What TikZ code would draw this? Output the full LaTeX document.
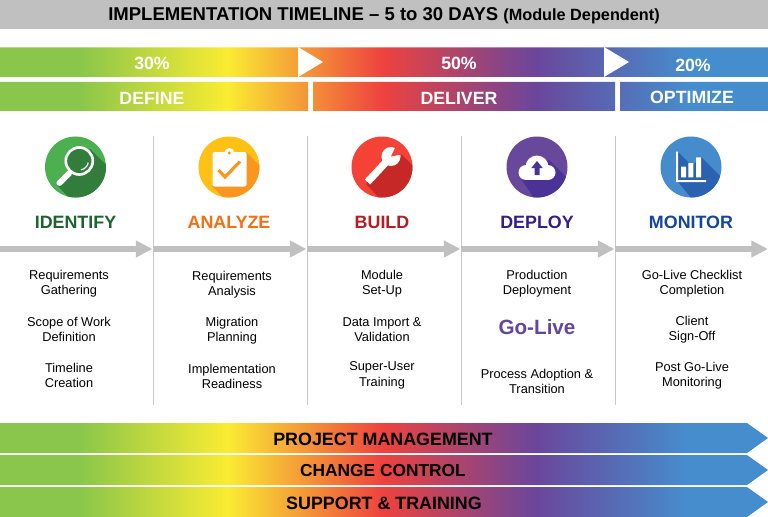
\documentclass[tikz,border=0pt]{standalone}
\usepackage{fontspec}
\setmainfont{Liberation Sans}
\usetikzlibrary{arrows.meta,positioning}

\definecolor{barGreen}{RGB}{138,198,75}
\definecolor{barYellow}{RGB}{250,236,50}
\definecolor{barRed}{RGB}{238,66,62}
\definecolor{barPurple}{RGB}{106,70,155}
\definecolor{barBlue}{RGB}{70,141,205}
\definecolor{rule}{RGB}{192,192,192}

\pgfdeclarehorizontalshading{timeline}{100bp}{
	color(0bp)=(barGreen); color(30.2bp)=(barGreen); color(39.8bp)=(barYellow);
	color(49.9bp)=(barRed); color(59.9bp)=(barPurple); color(69.8bp)=(barBlue);
	color(100bp)=(barBlue)}

\tikzset{
	barlabel/.style={text=white, font=\fontsize{13.3}{16}\selectfont\bfseries},
	tracklabel/.style={text=black, font=\fontsize{13.4}{16}\selectfont\bfseries},
	disc/.style={circle, minimum size=45.75pt, inner sep=0pt},
	heading/.style={font=\fontsize{13.4}{16}\selectfont\bfseries},
	item/.style={align=center, font=\fontsize{9.6}{11.6}\selectfont},
	divider/.style={draw=rule!85!white, line width=0.6pt},
	stage/.style={draw=rule, line width=4.5pt, -{Triangle[length=12.5pt, width=12pt]}},
}

\begin{document}
\begin{tikzpicture}[x=0.75pt, y=-0.75pt, node distance=34.5pt, on grid]
	\useasboundingbox (0,0) rectangle (768,517);

	% header
	\fill[rule] (0,0) rectangle (768,29);
	\node (title) at (384,16) {\fontsize{13.9}{16}\selectfont\bfseries IMPLEMENTATION TIMELINE -- 5 to 30 DAYS {\fontsize{12.2}{16}\selectfont (Module Dependent)}};

	% one gradient behind all the bars
	\begin{scope}
		\clip (0,47.5) rectangle (768,77)
			(0,82) rectangle (308,111)
			(313,82) rectangle (615,111)
			(620,82) rectangle (768,111)
			(0,423) -- (747,423) -- (768,438) -- (747,453) -- (0,453) -- cycle
			(0,455) -- (747,455) -- (768,470) -- (747,485) -- (0,485) -- cycle
			(0,487) -- (747,487) -- (768,502) -- (747,517) -- (0,517) -- cycle;
		\shade[shading=timeline] (0,0) rectangle (768,517);
	\end{scope}
	\fill[white] (298,47) -- (323,62) -- (298,77) -- cycle;
	\fill[white] (604,47) -- (629,62) -- (604,77) -- cycle;

	\node[barlabel] (p30) at (152,63) {30\%};
	\node[barlabel] (p50) at (459,63) {50\%};
	\node[barlabel] (p20) at (693,65) {20\%};
	\node[barlabel] (define) at (152,98) {DEFINE};
	\node[barlabel] (deliver) at (459,98) {DELIVER};
	\node[barlabel] (optimize) at (692,97) {OPTIMIZE};

	\node[tracklabel] (project) at (383,439) {PROJECT MANAGEMENT};
	\node[tracklabel, font=\fontsize{13}{16}\selectfont\bfseries] (change) at (383,471) {CHANGE CONTROL};
	\node[tracklabel] (support) at (384,503) {SUPPORT \& TRAINING};

	% column rules and stage arrows
	\foreach \n/\x in {1/153,2/307,3/461,4/615} {
		\coordinate (top\n) at (\x,136);
		\coordinate (bot\n) at (\x,405);
		\draw[divider] (top\n) -- (bot\n);
	}
	\foreach \n/\x in {0/0,1/153,2/307,3/461,4/615,5/768.5} {
		\coordinate (s\n) at (\x,249);
		\coordinate (e\n) at (\x-0.5,249);
	}
	\draw[stage] (s0) -- (e1);
	\draw[stage] (s1) -- (e2);
	\draw[stage] (s2) -- (e3);
	\draw[stage] (s3) -- (e4);
	\draw[stage] (s4) -- (e5);

	% identify
	\node[disc, fill={rgb,255:red,76;green,175;blue,80}] (identify) at (75.5,167) {};
	\begin{scope}
		\clip (identify.center) circle (30.5);
		\fill[fill={rgb,255:red,50;green,125;blue,60}] (90,149) -- (125,184) -- (125,215) -- (85,215) -- (57,185) -- cycle;
	\end{scope}
	\draw[white, line width=4.5pt, line cap=round] (59.5,183) -- (69,173.5);
	\draw[white, line width=2pt, fill={rgb,255:red,50;green,125;blue,60}] (79.3,161) circle (13.5);
	\draw[white, line width=0.9pt] (88.2,162.6) arc[start angle=10, end angle=80, radius=9];

	% analyze
	\node[disc, fill={rgb,255:red,255;green,193;blue,20}] (analyze) at (229,167) {};
	\begin{scope}
		\clip (analyze.center) circle (30.5);
		\fill[fill={rgb,255:red,250;green,150;blue,32}] (246,152) -- (275,181) -- (275,215) -- (240,215) -- (212,186) -- cycle;
	\end{scope}
	\fill[white, rounded corners=1.5pt] (212.5,152) rectangle (246.5,186.5);
	\fill[white] (229.3,153) circle (5);
	\fill[fill={rgb,255:red,250;green,150;blue,32}] (229.3,153) circle (1.6);
	\draw[draw={rgb,255:red,250;green,150;blue,32}, line width=2.4pt] (218.5,170) -- (225,177) -- (240,161.5);

	% build
	\node[disc, fill={rgb,255:red,244;green,67;blue,54}] (build) at (382,167) {};
	\begin{scope}
		\clip (build.center) circle (30.5);
		\fill[fill={rgb,255:red,198;green,40;blue,40}] (394,147) -- (440,193) -- (440,215) -- (395,215) -- (366,184) -- cycle;
	\end{scope}
	\draw[white, line width=5.5pt] (367.5,182) -- (387,161);
	\fill[white] (391,156.5) circle (9.5);
	\fill[fill={rgb,255:red,244;green,67;blue,54}] (391,156.5) -- (396,146) -- (404,154) -- cycle;

	% deploy
	\node[disc, fill={rgb,255:red,103;green,72;blue,155}] (deploy) at (537,167) {};
	\begin{scope}
		\clip (deploy.center) circle (30.5);
		\fill[fill={rgb,255:red,74;green,50;blue,150}] (549,160) -- (590,201) -- (590,215) -- (545,215) -- (522,180) -- cycle;
	\end{scope}
	\fill[white] (537,167) circle (11.5)
		(526,172.5) circle (7.5)
		(548,172.5) circle (7.5);
	\fill[white] (526,170) rectangle (548,180);
	\fill[fill={rgb,255:red,74;green,50;blue,150}] (537,161) -- (542.7,168) -- (539.5,168) -- (539.5,175) -- (534.5,175) -- (534.5,168) -- (531.3,168) -- cycle;

	% monitor
	\node[disc, fill={rgb,255:red,70;green,140;blue,205}] (monitor) at (691,167) {};
	\begin{scope}
		\clip (monitor.center) circle (30.5);
		\fill[fill={rgb,255:red,42;green,98;blue,175}] (678,152) -- (692,166) -- (701,157) -- (740,196) -- (740,215) -- (705,215) -- (678,182) -- cycle;
	\end{scope}
	\fill[white] (676,151.5) rectangle (678,182)
		(676,180) rectangle (706,182)
		(681,166.7) rectangle (686,177.3)
		(688.3,163) rectangle (693.3,177.3)
		(696,157.3) rectangle (701,177.3);

	% headings
	\node[heading, text={rgb,255:red,30;green,100;blue,45}] (h1) [below=41.25pt of identify] {IDENTIFY};
	\node[heading, text={rgb,255:red,245;green,110;blue,20}] (h2) [below=41.25pt of analyze] {ANALYZE};
	\node[heading, text={rgb,255:red,180;green,30;blue,35}] (h3) [below=41.25pt of build] {BUILD};
	\node[heading, text={rgb,255:red,50;green,30;blue,140}] (h4) [below=41.25pt of deploy] {DEPLOY};
	\node[heading, text={rgb,255:red,20;green,70;blue,160}] (h5) [below=41.25pt of monitor] {MONITOR};

	% lists
	\node[item] (a1) at (69,283.5) {Requirements\\Gathering};
	\node[item] (a2) [below=of a1] {Scope of Work\\Definition};
	\node[item] (a3) [below=of a2] {Timeline\\Creation};

	\node[item] (b1) at (232,284.5) {Requirements\\Analysis};
	\node[item] (b2) [below=of b1] {Migration\\Planning};
	\node[item] (b3) [below=of b2] {Implementation\\Readiness};

	\node[item] (c1) at (382,283.5) {Module\\Set-Up};
	\node[item] (c2) [below=of c1] {Data Import \&\\Validation};
	\node[item] (c3) [below=of c2] {Super-User\\Training};

	\node[item] (d1) at (537,283.5) {Production\\Deployment};
	\node[font=\fontsize{15.5}{18}\selectfont\bfseries, text={rgb,255:red,100;green,70;blue,160}] (d2) at (537,327) {Go-Live};
	\node[item] (d3) at (537,381.5) {Process Adoption \&\\Transition};

	\node[item] (e1) at (692,283.5) {Go-Live Checklist\\Completion};
	\node[item] (e2) [below=of e1] {Client\\Sign-Off};
	\node[item] (e3) [below=of e2] {Post Go-Live\\Monitoring};
\end{tikzpicture}
\end{document}
